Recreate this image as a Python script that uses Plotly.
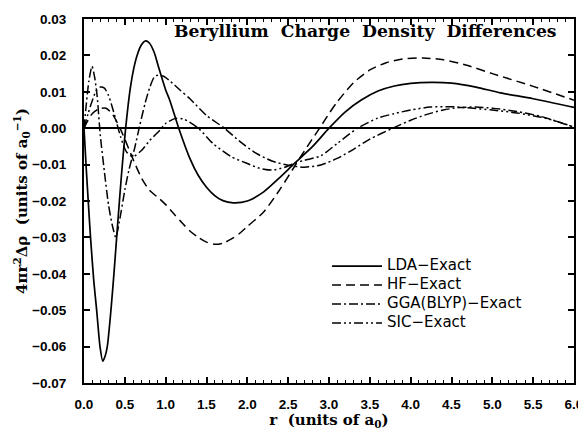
import plotly.graph_objects as go

# ---------------- data ----------------
lda_r = [0.0, 0.03, 0.06, 0.08, 0.12, 0.155, 0.196, 0.23, 0.26, 0.285, 0.33, 0.37, 0.41, 0.46,
         0.51, 0.567, 0.61, 0.65, 0.7, 0.755, 0.8, 0.86, 0.91, 1.0, 1.05, 1.16, 1.3, 1.4, 1.5,
         1.6, 1.7, 1.83, 2.0, 2.2, 2.4, 2.58, 2.8, 3.0, 3.2, 3.4, 3.6, 3.8, 4.0, 4.25, 4.5,
         4.8, 5.1, 5.5, 6.0]
lda_v = [0.0, -0.012, -0.023, -0.030, -0.042, -0.050, -0.060, -0.064, -0.0625, -0.060, -0.050,
         -0.039, -0.027, -0.0125, 0.0, 0.011, 0.0165, 0.020, 0.0228, 0.024, 0.0234, 0.0208,
         0.017, 0.0105, 0.0077, 0.0, -0.0085, -0.0130, -0.0162, -0.0185, -0.0199, -0.0205,
         -0.0200, -0.0175, -0.0135, -0.0096, -0.0050, 0.0, 0.0045, 0.0078, 0.0102, 0.0116,
         0.0123, 0.0126, 0.0124, 0.0113, 0.0097, 0.0081, 0.0057]

hf_r = [0.0, 0.05, 0.1, 0.18, 0.27, 0.35, 0.43, 0.5, 0.6, 0.7, 0.8, 0.93, 1.0, 1.1, 1.2, 1.3,
        1.4, 1.5, 1.6, 1.7, 1.8, 1.9, 2.0, 2.2, 2.4, 2.6, 2.75, 2.9, 3.0, 3.1, 3.3, 3.5, 3.7,
        3.9, 4.15, 4.4, 4.7, 5.0, 5.5, 6.0]
hf_v = [0.0, 0.0022, 0.0040, 0.0053, 0.0055, 0.0038, 0.0005, -0.0030, -0.0085, -0.0135,
        -0.0170, -0.0195, -0.0210, -0.0235, -0.0260, -0.0283, -0.0300, -0.0313, -0.0319,
        -0.0316, -0.0305, -0.0290, -0.0270, -0.0230, -0.0168, -0.0097, -0.0045, 0.0005,
        0.0040, 0.0072, 0.0125, 0.0160, 0.0180, 0.0190, 0.0193, 0.0188, 0.0172, 0.0150,
        0.0115, 0.0077]

gga_r = [0.0, 0.03, 0.06, 0.098, 0.13, 0.16, 0.2, 0.25, 0.3, 0.35, 0.39, 0.43, 0.5, 0.55,
         0.62, 0.68, 0.75, 0.81, 0.86, 0.91, 0.98, 1.05, 1.175, 1.3, 1.5, 1.72, 1.9, 2.1,
         2.3, 2.5, 2.7, 2.9, 3.1, 3.3, 3.5, 3.78, 4.0, 4.2, 4.4, 4.6, 4.8, 5.0, 5.3, 5.6,
         5.8, 6.0]
gga_v = [0.0, 0.0070, 0.0130, 0.0170, 0.0140, 0.0090, -0.0020, -0.0120, -0.0210, -0.0270,
         -0.0300, -0.0260, -0.0170, -0.0115, -0.0055, 0.0005, 0.0070, 0.0115, 0.0140, 0.0146,
         0.0142, 0.0130, 0.0105, 0.0080, 0.0035, 0.0, -0.0035, -0.0068, -0.0090, -0.0102,
         -0.0107, -0.0101, -0.0083, -0.0058, -0.0030, 0.0, 0.0022, 0.0038, 0.0050, 0.0057,
         0.0058, 0.0055, 0.0046, 0.0032, 0.0018, 0.0003]

sic_r = [0.0, 0.05, 0.1, 0.15, 0.2, 0.25, 0.3, 0.35, 0.4, 0.45, 0.52, 0.6, 0.7, 0.8, 0.93,
         1.0, 1.12, 1.22, 1.4, 1.58, 1.8, 2.0, 2.15, 2.3, 2.45, 2.58, 2.7, 2.9, 3.1, 3.35,
         3.6, 3.8, 4.0, 4.24, 4.5, 4.7, 5.0, 5.3, 5.6, 5.8, 6.0]
sic_v = [0.0, 0.0040, 0.0075, 0.0103, 0.0113, 0.0110, 0.0090, 0.0055, 0.0015, -0.0025,
         -0.0065, -0.0078, -0.0062, -0.0035, -0.0005, 0.0013, 0.0027, 0.0025, 0.0, -0.0042,
         -0.0078, -0.0097, -0.0110, -0.0115, -0.0108, -0.0096, -0.0088, -0.0076, -0.0042,
         0.0, 0.0028, 0.0040, 0.0050, 0.0058, 0.0059, 0.0056, 0.0050, 0.0042, 0.0030,
         0.0018, 0.0003]

series_names = ["LDA\u2212Exact", "HF\u2212Exact", "GGA(BLYP)\u2212Exact", "SIC\u2212Exact"]
x_ticks = [0.0, 0.5, 1.0, 1.5, 2.0, 2.5, 3.0, 3.5, 4.0, 4.5, 5.0, 5.5, 6.0]
y_ticks = [0.03, 0.02, 0.01, 0.00, -0.01, -0.02, -0.03, -0.04, -0.05, -0.06, -0.07]

# ---------------- figure ----------------
styles = [
    dict(color="black", width=1.7, dash="solid"),
    dict(color="black", width=1.5, dash="9px,5px"),
    dict(color="black", width=1.5, dash="9px,3px,2px,3px"),
    dict(color="black", width=1.5, dash="9px,3px,2px,3px,2px,3px"),
]
data = [(lda_r, lda_v), (hf_r, hf_v), (gga_r, gga_v), (sic_r, sic_v)]

fig = go.Figure()
for (xs, ys), name, st in zip(data, series_names, styles):
    fig.add_trace(go.Scatter(
        x=xs, y=ys, mode="lines",
        name='<span style="font-size:15px">' + name + '</span>',
        line=dict(shape="spline", smoothing=0.7, **st)))

tick_font = dict(family="Liberation Sans", size=13.5, color="black", weight="bold")
title_font = dict(family="DejaVu Serif", size=15, color="black", weight="bold")

# the page body adds an 8px offset, so the figure is 8px smaller than the window
fig.update_layout(
    width=578, height=422,
    margin=dict(l=76, r=12, t=11, b=47, autoexpand=False),
    paper_bgcolor="white", plot_bgcolor="white",
    showlegend=True,
    legend=dict(x=0.496, y=0.361, xanchor="left", yanchor="top",
                bgcolor="rgba(0,0,0,0)", itemwidth=50,
                font=dict(family="DejaVu Sans", size=11, color="black")),
    annotations=[dict(text="Beryllium  Charge  Density  Differences",
                      xref="paper", yref="paper", x=0.969, y=0.966,
                      xanchor="right", yanchor="middle", showarrow=False,
                      font=dict(family="DejaVu Serif", size=17.2, color="black",
                                weight="bold"))],
)

fig.update_xaxes(
    range=[0, 6], tickvals=x_ticks, tickformat=".1f", automargin=False,
    ticks="inside", ticklen=6, tickwidth=1.5, tickcolor="black",
    minor=dict(ticks="inside", dtick=0.1, ticklen=3, tickwidth=1, tickcolor="black"),
    showline=True, linecolor="black", linewidth=2, mirror="ticks",
    showgrid=False, zeroline=False,
    tickfont=tick_font, ticklabelstandoff=8,
    title=dict(text="r  (units of a<sub>0</sub>)", font=title_font, standoff=4),
)
fig.update_yaxes(
    range=[-0.07, 0.03], tickvals=y_ticks, tickformat=".2f", automargin=False,
    ticks="inside", ticklen=6, tickwidth=1.5, tickcolor="black",
    showline=True, linecolor="black", linewidth=2, mirror="ticks",
    showgrid=False, zeroline=True, zerolinecolor="black", zerolinewidth=1.6,
    tickfont=tick_font, ticklabelstandoff=13,
    title=dict(text="4\u03c0r<sup>2</sup>\u0394\u03c1  (units of a<sub>0</sub><sup>\u22121</sup>)",
               font=title_font, standoff=0),
)

fig.write_html("out.html")
